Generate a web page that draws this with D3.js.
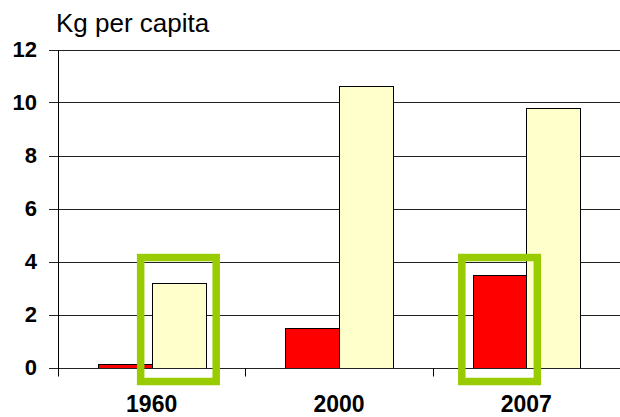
<!DOCTYPE html>
<html>
<head>
<meta charset="utf-8">
<script src="https://cdn.jsdelivr.net/npm/d3@7"></script>
<style>
  body { margin: 0; background: #fff; }
  svg { display: block; }
  text { font-family: Arial, "Liberation Sans", sans-serif; }
</style>
</head>
<body>
<svg id="chart" width="620" height="417"></svg>
<script>
// chart values
var years = ["1960", "2000", "2007"];
var seriesA = [0.13, 1.5, 3.48];   // red bars
var seriesB = [3.18, 10.61, 9.8];  // pale yellow bars
var yTicks = [0, 2, 4, 6, 8, 10, 12];
var yTitle = "Kg per capita";
// which bars get the green box: [year index, series index]
var highlights = [[0, 1], [2, 0]];

var svg = d3.select("#chart");
var plotL = 58, plotR = 620, plotT = 49.5, plotB = 367.5;

var x0 = d3.scaleBand().domain(years).range([plotL, plotR]);
var x1 = d3.scaleBand().domain([0, 1]).range([0, x0.bandwidth()]).paddingOuter(0.75);
var y = d3.scaleLinear().domain([0, 12]).range([plotB, plotT]);

// gridlines + y ticks
svg.append("g")
  .selectAll("line")
  .data(yTicks)
  .join("line")
  .attr("x1", plotL - 9)
  .attr("x2", plotR)
  .attr("y1", function(d) { return Math.round(y(d)) + 0.5; })
  .attr("y2", function(d) { return Math.round(y(d)) + 0.5; })
  .attr("stroke", "#222")
  .attr("stroke-width", 1);

svg.append("g")
  .selectAll("text")
  .data(yTicks)
  .join("text")
  .attr("x", 37)
  .attr("y", function(d) { return y(d); })
  .attr("dy", "0.36em")
  .attr("text-anchor", "end")
  .attr("font-size", 22)
  .attr("font-weight", "bold")
  .text(function(d) { return d; });

// bars
var rows = [];
years.forEach(function(yr, i) {
  rows.push({ year: yr, s: 0, v: seriesA[i] });
  rows.push({ year: yr, s: 1, v: seriesB[i] });
});

svg.append("g")
  .selectAll("rect")
  .data(rows)
  .join("rect")
  .attr("x", function(d) { return Math.round(x0(d.year) + x1(d.s)) + 0.5; })
  .attr("y", function(d) { return Math.round(y(d.v)) + 0.5; })
  .attr("width", function(d) { return Math.round(x1.bandwidth()); })
  .attr("height", function(d) { return Math.round(y(0)) - Math.round(y(d.v)); })
  .attr("fill", function(d) { return d.s === 0 ? "#ff0000" : "#ffffcc"; })
  .attr("stroke", "#000")
  .attr("stroke-width", 1);

// axes lines
var y0 = Math.round(y(0)) + 0.5;
svg.append("line")
  .attr("x1", plotL - 9).attr("x2", plotR)
  .attr("y1", y0).attr("y2", y0)
  .attr("stroke", "#222");
svg.append("line")
  .attr("x1", plotL + 0.5).attr("x2", plotL + 0.5)
  .attr("y1", Math.round(plotT) + 0.5).attr("y2", y0 + 8)
  .attr("stroke", "#000");

// category ticks
svg.append("g")
  .selectAll("line")
  .data(years.slice(1))
  .join("line")
  .attr("x1", function(d) { return Math.round(x0(d)) + 0.5; })
  .attr("x2", function(d) { return Math.round(x0(d)) + 0.5; })
  .attr("y1", y0)
  .attr("y2", y0 + 8)
  .attr("stroke", "#000");

// x labels
svg.append("g")
  .selectAll("text")
  .data(years)
  .join("text")
  .attr("x", function(d) { return x0(d) + x0.bandwidth() / 2; })
  .attr("y", 412)
  .attr("text-anchor", "middle")
  .attr("font-size", 23)
  .attr("font-weight", "bold")
  .text(function(d) { return d; });

// y title
svg.append("text")
  .attr("x", 56)
  .attr("y", 32)
  .attr("font-size", 26)
  .text(yTitle);

// green highlight boxes
svg.append("g")
  .selectAll("rect")
  .data(highlights)
  .join("rect")
  .attr("x", function(d) { return x0(years[d[0]]) + x1(d[1]) - 11; })
  .attr("y", y(4.15))
  .attr("width", x1.bandwidth() + 22)
  .attr("height", y(0) + 14 - y(4.15))
  .attr("fill", "none")
  .attr("stroke", "#99cc00")
  .attr("stroke-width", 7.5);
</script>
</body>
</html>
